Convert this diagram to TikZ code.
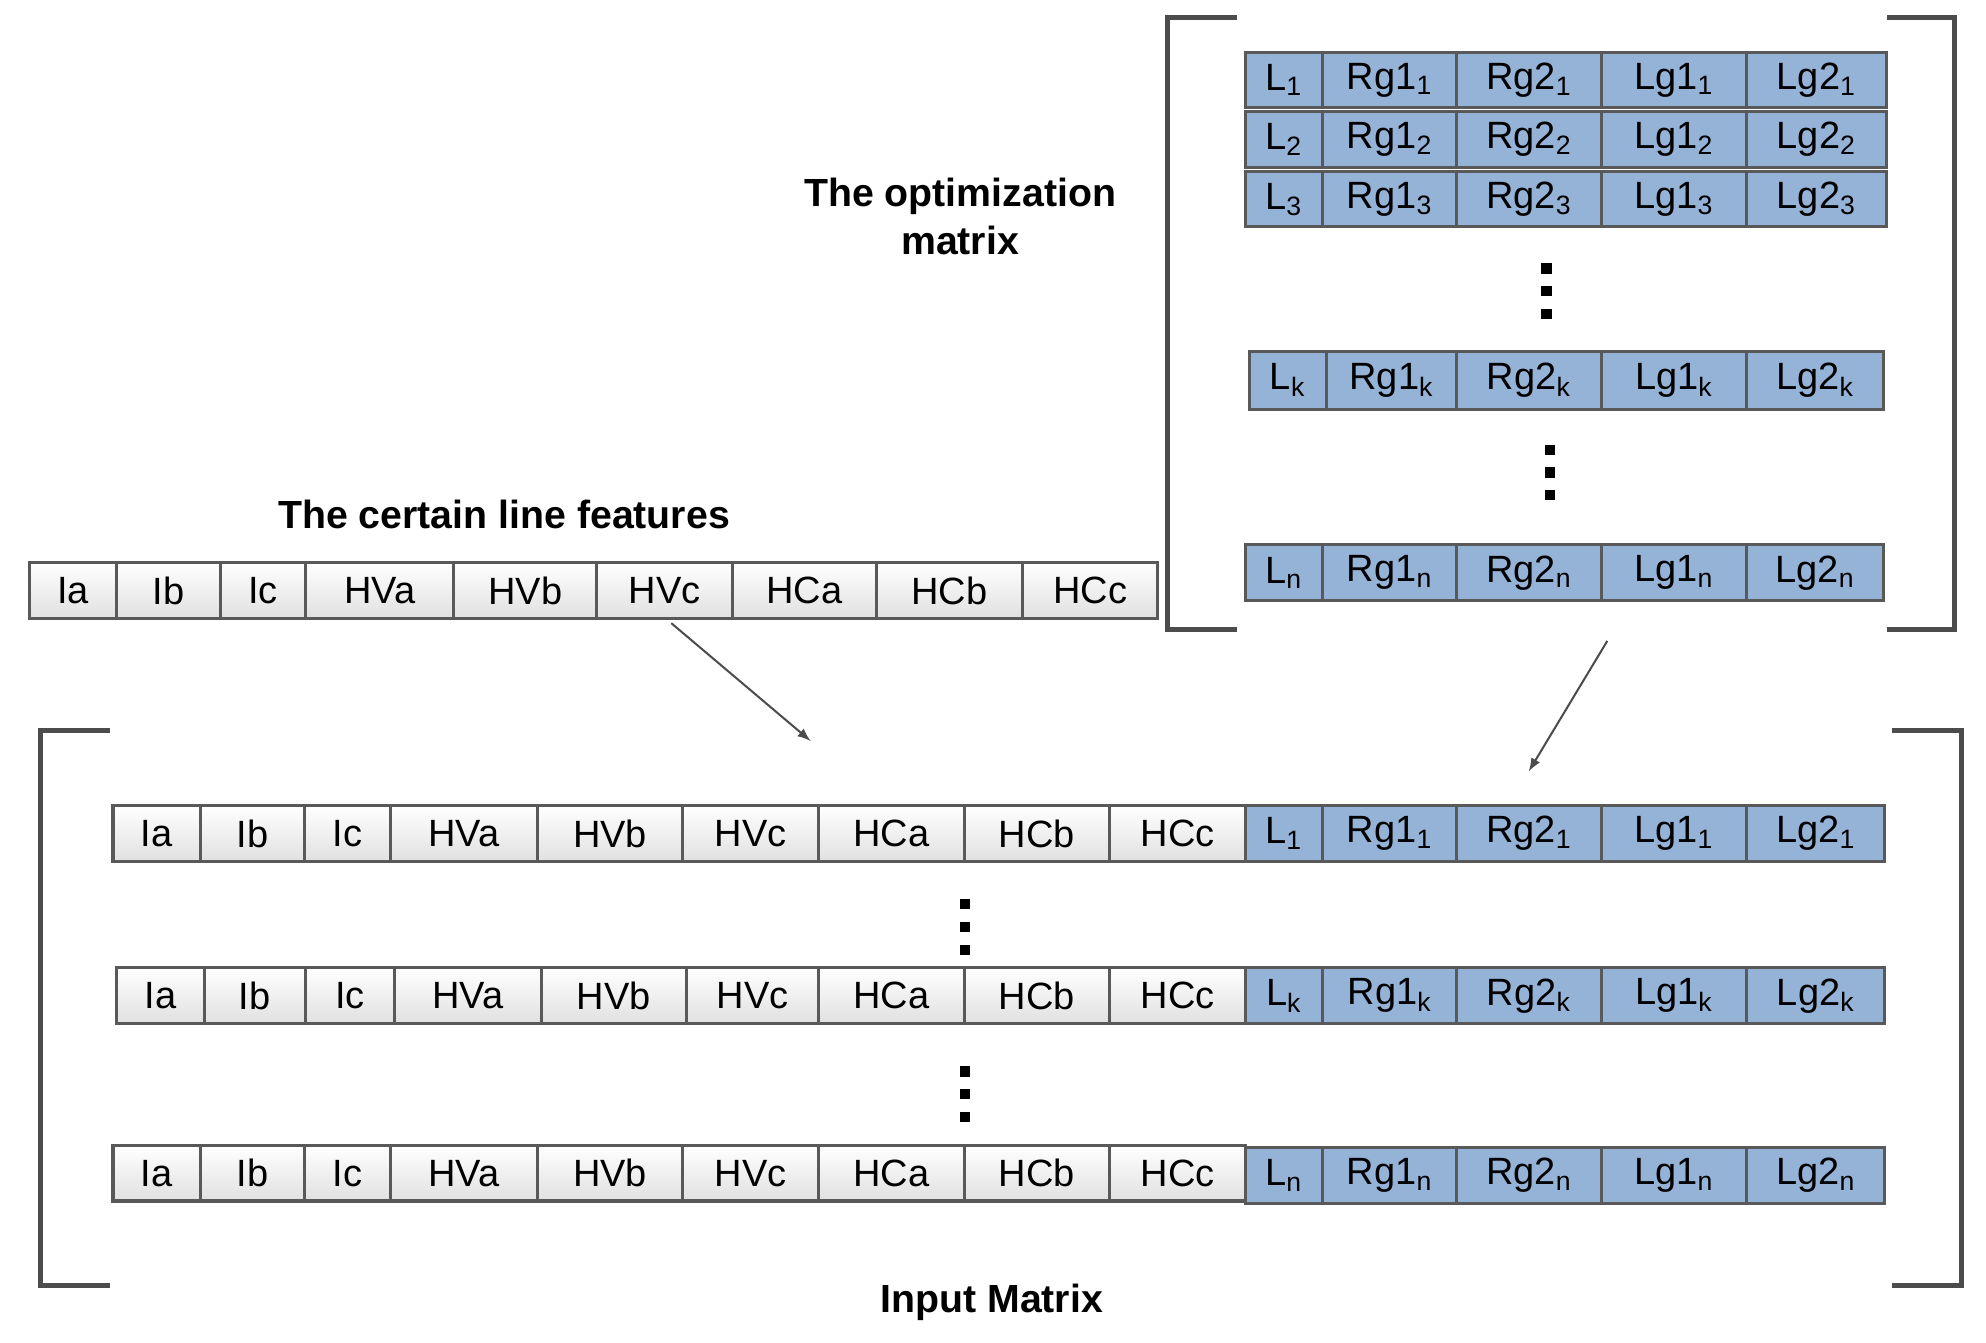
\documentclass[tikz,border=0pt]{standalone}
\usepackage{fontspec}
\setmainfont{Liberation Sans}
\begin{document}
\begin{tikzpicture}[x=0.5pt,y=-0.5pt,
  wc/.style={draw=black!65,line width=1.2pt,top color=white,bottom color=black!12,font=\fontsize{15}{15}\selectfont},
  bc/.style={draw=black!65,line width=1.2pt,fill={rgb,255:red,149;green,179;blue,215},font=\fontsize{15}{15}\selectfont},
  brk/.style={draw=black!70,line width=2pt},
  lab/.style={font=\bfseries\fontsize{15.5}{19}\selectfont,align=center},
  dot/.style={fill=black,minimum size=4pt,inner sep=0pt},
  arr/.style={draw=black!70,line width=0.8pt,-latex}]
\useasboundingbox (0,0) rectangle (1568,1060);
\newcommand{\cellrow}[6]{%
  \foreach \a/\b/\t [count=\i] in {#4}{
    \node[#5,minimum width=(\b-\a)*0.5pt,minimum height=(#3-#2)*0.5pt,inner sep=0pt,anchor=north west] (#1\i) at (\a,#2) {\t};
  }}
% top feature row
\cellrow{f}{443}{487}{22/91/Ia,91/173/Ib,173/240/Ic,240/357/HVa,357/470/HVb,470/577/HVc,577/691/HCa,691/806/HCb,806/913/HCc}{wc}{}
\node[lab] (tl) at (398,406) {The certain line features};
% optimization matrix
\cellrow{oa}{40}{84}{982/1043/L\textsubscript{1},1043/1149/Rg1\textsubscript{1},1149/1263/Rg2\textsubscript{1},1263/1378/Lg1\textsubscript{1},1378/1488/Lg2\textsubscript{1}}{bc}{}
\cellrow{ob}{87}{131}{982/1043/L\textsubscript{2},1043/1149/Rg1\textsubscript{2},1149/1263/Rg2\textsubscript{2},1263/1378/Lg1\textsubscript{2},1378/1488/Lg2\textsubscript{2}}{bc}{}
\cellrow{oc}{134}{178}{982/1043/L\textsubscript{3},1043/1149/Rg1\textsubscript{3},1149/1263/Rg2\textsubscript{3},1263/1378/Lg1\textsubscript{3},1378/1488/Lg2\textsubscript{3}}{bc}{}
\cellrow{ok}{276}{322}{985/1046/L\textsubscript{k},1046/1149/Rg1\textsubscript{k},1149/1263/Rg2\textsubscript{k},1263/1378/Lg1\textsubscript{k},1378/1486/Lg2\textsubscript{k}}{bc}{}
\cellrow{on}{429}{473}{982/1043/L\textsubscript{n},1043/1149/Rg1\textsubscript{n},1149/1263/Rg2\textsubscript{n},1263/1378/Lg1\textsubscript{n},1378/1486/Lg2\textsubscript{n}}{bc}{}
\foreach \y [count=\i] in {212,230,248}{\node[dot] (da\i) at (1221,\y) {};}
\foreach \y [count=\i] in {355,373,391}{\node[dot] (db\i) at (1224,\y) {};}
\draw[brk] (977,14) -- (922,14) -- (922,497) -- (977,497);
\draw[brk] (1490,14) -- (1543,14) -- (1543,497) -- (1490,497);
\node[lab] (ol) at (758,171) {The optimization\\matrix};
% input matrix
\cellrow{ia}{635}{679}{88/157/Ia,157/239/Ib,239/307/Ic,307/423/HVa,423/538/HVb,538/645/HVc,645/760/HCa,760/875/HCb,875/982/HCc}{wc}{}
\cellrow{iaa}{635}{679}{982/1043/L\textsubscript{1},1043/1149/Rg1\textsubscript{1},1149/1263/Rg2\textsubscript{1},1263/1378/Lg1\textsubscript{1},1378/1487/Lg2\textsubscript{1}}{bc}{}
\cellrow{ib}{763}{807}{91/160/Ia,160/240/Ib,240/310/Ic,310/426/HVa,426/541/HVb,541/645/HVc,645/760/HCa,760/875/HCb,875/982/HCc}{wc}{}
\cellrow{ibb}{763}{807}{982/1043/L\textsubscript{k},1043/1149/Rg1\textsubscript{k},1149/1263/Rg2\textsubscript{k},1263/1378/Lg1\textsubscript{k},1378/1487/Lg2\textsubscript{k}}{bc}{}
\cellrow{ic}{903}{947}{88/157/Ia,157/239/Ib,239/307/Ic,307/423/HVa,423/538/HVb,538/645/HVc,645/760/HCa,760/875/HCb,875/982/HCc}{wc}{}
\cellrow{icc}{905}{949}{982/1043/L\textsubscript{n},1043/1149/Rg1\textsubscript{n},1149/1263/Rg2\textsubscript{n},1263/1378/Lg1\textsubscript{n},1378/1487/Lg2\textsubscript{n}}{bc}{}
\foreach \y [count=\i] in {714,732,750}{\node[dot] (dc\i) at (762,\y) {};}
\foreach \y [count=\i] in {846,864,882}{\node[dot] (dd\i) at (762,\y) {};}
\draw[brk] (87,577) -- (32,577) -- (32,1015) -- (87,1015);
\draw[brk] (1494,577) -- (1549,577) -- (1549,1015) -- (1494,1015);
\node[lab] (il) at (783,1028) {Input Matrix};
% arrows
\coordinate (a1s) at (530,492); \coordinate (a1e) at (640,585);
\coordinate (a2s) at (1269,506); \coordinate (a2e) at (1207,609);
\draw[arr] (a1s) -- (a1e);
\draw[arr] (a2s) -- (a2e);
\end{tikzpicture}
\end{document}
